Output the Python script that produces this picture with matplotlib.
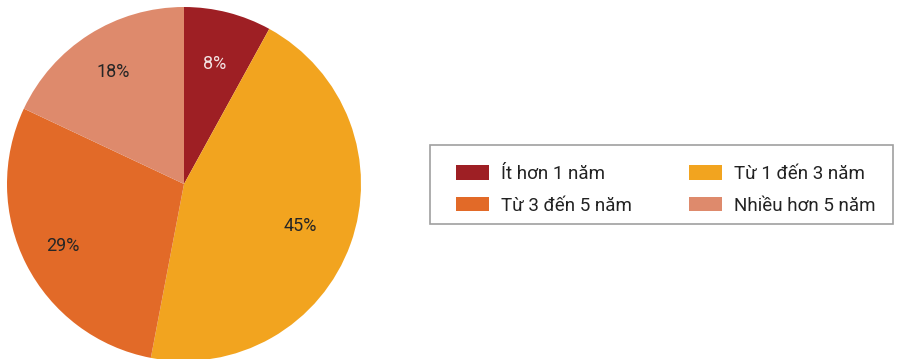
import matplotlib.pyplot as plt
from matplotlib.patches import Rectangle

labels = ['Ít hơn 1 năm', 'Từ 1 đến 3 năm', 'Từ 3 đến 5 năm', 'Nhiều hơn 5 năm']
shares = [8, 45, 29, 18]
colors = ['#9E1F24', '#F2A41F', '#E26A28', '#DE8A6C']
text_colors = ['#F2E2E2', '#262626', '#262626', '#262626']
label_dist = [0.70, 0.70, 0.77, 0.75]

plt.rcParams['font.family'] = ['Roboto', 'DejaVu Sans']

W, H = 903, 359
fig = plt.figure(figsize=(W / 100, H / 100), dpi=100)
ax = fig.add_axes([0, 0, 1, 1])

cx, cy, r = 184, H - 184, 177
wedges, texts, autotexts = ax.pie(
    shares, colors=colors, startangle=90, counterclock=False,
    center=(cx, cy), radius=r,
    autopct='%d%%', pctdistance=1.0,
    textprops={'fontsize': 13},
)
# pull each percentage in toward the centre by its own factor
for t, c, d in zip(autotexts, text_colors, label_dist):
    x, y = t.get_position()
    t.set_position((cx + (x - cx) * d, cy + (y - cy) * d))
    t.set_color(c)

# pie() resets the limits, so set the pixel frame afterwards
ax.set_xlim(0, W)
ax.set_ylim(0, H)
ax.set_aspect('equal')
ax.axis('off')

# grey box behind the legend (wider padding left than right)
ax.add_patch(Rectangle((430, H - 224), 463, 79, facecolor='white',
                       edgecolor='#A0A0A0', linewidth=1.2, zorder=3))

# legend fills column-first; reorder so rows read left to right
order = [0, 2, 1, 3]
leg = fig.legend(
    [wedges[i] for i in order], [labels[i] for i in order], ncol=2,
    loc='upper left',
    bbox_to_anchor=(456 / W, 1 - 221 / H, (876 - 456) / W, (221 - 165) / H),
    mode='expand', fontsize=13.5, frameon=False,
    handlelength=1.75, handleheight=0.85, handletextpad=0.65,
    labelspacing=0.72, borderpad=0, borderaxespad=0,
)
for t in leg.get_texts():
    t.set_color('#222222')

fig.savefig('out.png', dpi=100)
